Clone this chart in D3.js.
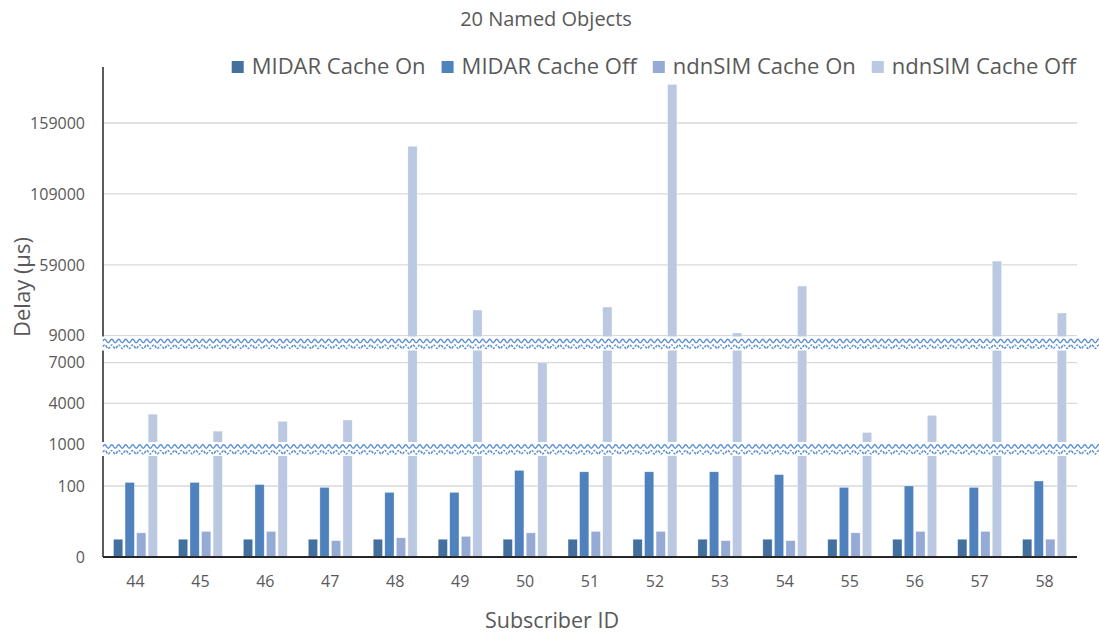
<!DOCTYPE html>
<html>
<head>
<meta charset="utf-8">
<script src="https://cdn.jsdelivr.net/npm/d3@7"></script>
<style>
  html, body { margin: 0; padding: 0; background: #fff; }
  svg { display: block; font-family: "Open Sans", "Noto Sans", sans-serif; }
</style>
</head>
<body>
<svg id="chart" width="1099" height="635"></svg>
<script>
// Subscriber IDs on the x axis
const categories = ["44","45","46","47","48","49","50","51","52","53","54","55","56","57","58"];

// Series names (legend order)
const seriesNames = ["MIDAR Cache On", "MIDAR Cache Off", "ndnSIM Cache On", "ndnSIM Cache Off"];

// Delay values in microseconds, one per subscriber
const midarCacheOn  = [25, 25, 25, 25, 25, 25, 25, 25, 25, 25, 25, 25, 25, 25, 25];
const midarCacheOff = [105, 105, 102, 98, 91, 91, 122, 120, 120, 120, 116, 98, 100, 98, 107];
const ndnsimCacheOn = [34, 36, 36, 23, 27, 29, 34, 36, 36, 23, 23, 34, 36, 36, 25];
const ndnsimCacheOff = [3200, 1950, 2670, 2770, 142600, 27100, 7000, 29200, 186200, 10900, 44000, 1850, 3110, 61600, 25000];

// Tick labels on the broken value axis
const yTickValues = [0, 100, 1000, 4000, 7000, 9000, 59000, 109000, 159000];

const seriesColors = ["#44709f", "#4f81bd", "#95aad5", "#bac8e2"];

const seriesValues = [midarCacheOn, midarCacheOff, ndnsimCacheOn, ndnsimCacheOff];
const rows = categories.map((c, i) => ({
  id: c,
  values: seriesNames.map((s, k) => ({ series: s, k, value: seriesValues[k][i] }))
}));

const svg = d3.select("#chart");
const plot = { left: 103, right: 1077, top: 67, bottom: 557 };
const textColor = "#595959";

// Three stacked axis segments, separated by break bands
const breakCenters = [449, 343.5];
const segments = [
  { lo: 0,    hi: 1000,     scale: d3.scaleLinear().domain([0, 100]).range([557, 486]),          bottom: plot.bottom,     top: breakCenters[0] },
  { lo: 1000, hi: 9000,     scale: d3.scaleLinear().domain([1000, 7000]).range([444, 362.7]),    bottom: breakCenters[0], top: breakCenters[1] },
  { lo: 9000, hi: Infinity, scale: d3.scaleLinear().domain([9000, 159000]).range([335.7, 123]),  bottom: breakCenters[1], top: plot.top - 10 }
];
const segmentFor = v => segments.find(s => v >= s.lo && v < s.hi);
const yPos = v => segmentFor(v).scale(v);

// Category and series bands
const x0 = d3.scaleBand().domain(categories).range([plot.left, plot.right]).paddingInner(0).paddingOuter(0);
const bw = x0.bandwidth();
const x1 = d3.scaleBand().domain(seriesNames).range([bw * 0.162, bw * 0.838]).paddingInner(0.2);
const color = d3.scaleOrdinal().domain(seriesNames).range(seriesColors);

// Title
svg.append("text")
  .attr("x", 546).attr("y", 26)
  .attr("text-anchor", "middle")
  .attr("font-size", 20).attr("fill", textColor)
  .text("20 Named Objects");

// Gridlines
svg.append("g").selectAll("line")
  .data(yTickValues.filter(v => v > 0))
  .join("line")
  .attr("x1", plot.left).attr("x2", plot.right)
  .attr("y1", d => yPos(d)).attr("y2", d => yPos(d))
  .attr("stroke", "#d9d9d9").attr("stroke-width", 1.3);

// Bars, drawn once per axis segment and clipped to it
const defs = svg.append("defs");
segments.forEach((seg, si) => {
  defs.append("clipPath").attr("id", "seg" + si)
    .append("rect")
    .attr("x", plot.left).attr("y", seg.top)
    .attr("width", plot.right - plot.left).attr("height", seg.bottom - seg.top);

  const g = svg.append("g").attr("clip-path", `url(#seg${si})`);
  g.selectAll("g")
    .data(rows)
    .join("g")
    .attr("transform", d => `translate(${x0(d.id)},0)`)
    .selectAll("rect")
    .data(d => d.values.filter(v => seg.scale(v.value) < seg.bottom))
    .join("rect")
    .attr("x", d => x1(d.series))
    .attr("width", x1.bandwidth())
    .attr("y", d => seg.scale(d.value))
    .attr("height", d => seg.bottom - seg.scale(d.value))
    .attr("fill", d => color(d.series))
    .attr("stroke", "#ffffff").attr("stroke-opacity", 0.5).attr("stroke-width", 0.6);
});

// Axis lines
svg.append("line")
  .attr("x1", plot.left).attr("x2", plot.left)
  .attr("y1", plot.top).attr("y2", plot.bottom)
  .attr("stroke", "#262626").attr("stroke-width", 1.5);
svg.append("line")
  .attr("x1", plot.left).attr("x2", plot.right)
  .attr("y1", plot.bottom).attr("y2", plot.bottom)
  .attr("stroke", "#262626").attr("stroke-width", 2);

// Break bands with wavy double lines
function wavePath(x0p, x1p, y, period, amp) {
  let d = `M${x0p},${y} Q${x0p + period / 4},${y - amp} ${x0p + period / 2},${y}`;
  for (let x = x0p + period; x <= x1p + period; x += period / 2) d += ` T${x},${y}`;
  return d;
}
breakCenters.forEach(cy => {
  const g = svg.append("g");
  g.append("rect")
    .attr("x", plot.left - 1).attr("y", cy - 7)
    .attr("width", 1099 - plot.left + 1).attr("height", 14)
    .attr("fill", "#ffffff");
  g.append("path")
    .attr("d", wavePath(plot.left, 1099, cy - 2.5, 7, 3.4))
    .attr("fill", "none").attr("stroke", "#5b8fd0").attr("stroke-width", 1.5);
  g.append("path")
    .attr("d", wavePath(plot.left, 1099, cy + 3.2, 7, 3.4))
    .attr("fill", "none").attr("stroke", "#5b8fd0").attr("stroke-width", 1.5)
    .attr("stroke-dasharray", "2.4,1.2");
});

// Y tick labels
svg.append("g").selectAll("text")
  .data(yTickValues)
  .join("text")
  .attr("x", 85)
  .attr("y", d => yPos(d))
  .attr("dy", "0.36em")
  .attr("text-anchor", "end")
  .attr("font-size", 16).attr("fill", textColor)
  .text(d => d);

// X tick labels
svg.append("g").selectAll("text")
  .data(categories)
  .join("text")
  .attr("x", d => x0(d) + bw / 2)
  .attr("y", 587)
  .attr("text-anchor", "middle")
  .attr("font-size", 16).attr("fill", textColor)
  .text(d => d);

// Axis titles
svg.append("text")
  .attr("x", 552).attr("y", 628)
  .attr("text-anchor", "middle")
  .attr("font-size", 21.5).attr("fill", textColor)
  .text("Subscriber ID");
svg.append("text")
  .attr("transform", "translate(30,287) rotate(-90)")
  .attr("text-anchor", "middle")
  .attr("font-size", 22).attr("fill", textColor)
  .text("Delay (µs)");

// Legend, laid out left to right and right-aligned
const legend = svg.append("g");
const items = legend.selectAll("g").data(seriesNames).join("g");
items.append("rect").attr("width", 12).attr("height", 12).attr("y", -13).attr("fill", d => color(d));
items.append("text").attr("x", 20).attr("y", 0).attr("font-size", 22).attr("fill", textColor).text(d => d);
let cursor = 0;
items.each(function() {
  const w = 20 + this.querySelector("text").getComputedTextLength();
  d3.select(this).attr("transform", `translate(${cursor},0)`);
  cursor += w + 16;
});
const legendWidth = cursor - 16;
legend.attr("transform", `translate(${1076 - legendWidth},74)`);
</script>
</body>
</html>
